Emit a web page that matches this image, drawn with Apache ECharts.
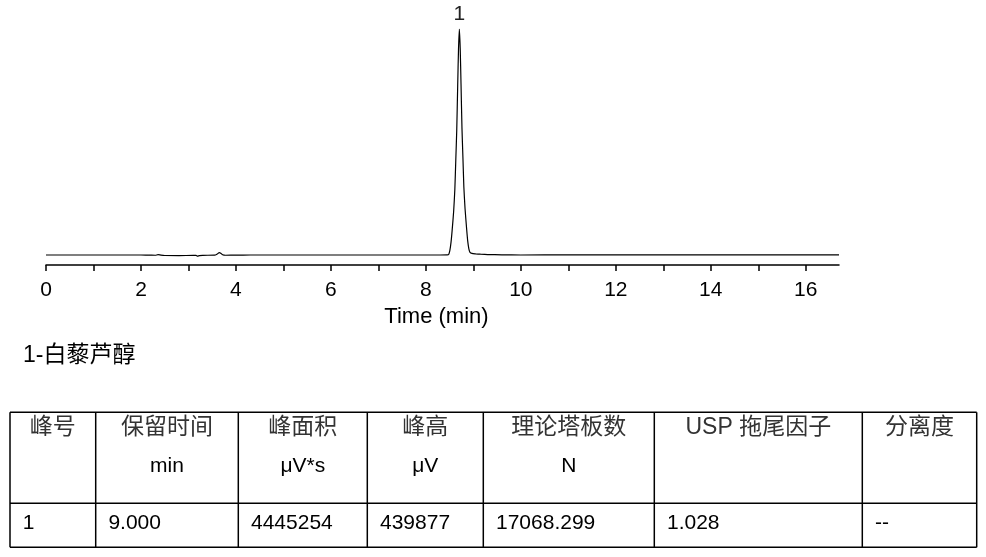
<!DOCTYPE html>
<html><head><meta charset="utf-8">
<script src="https://cdn.jsdelivr.net/npm/echarts@6/dist/echarts.min.js"></script>
<style>html,body{margin:0;padding:0;background:#fff}#c{width:986px;height:557px}</style>
</head><body><div id="c"></div>
<script>
// ---- data ----
const times  = [0, 0.5, 1.0, 1.5, 2.0, 2.15, 2.3, 2.36, 2.42, 2.5, 2.8, 3.1, 3.16, 3.19, 3.23, 3.3, 3.55, 3.6, 3.65, 3.68, 3.72, 3.78, 4.0, 4.3, 5.0, 6.0, 7.0, 8.0, 8.3, 8.45,
  8.48, 8.505, 8.53, 8.553, 8.585, 8.61, 8.63, 8.65, 8.67, 8.687, 8.705, 8.723, 8.74, 8.76, 8.78, 8.80, 8.825, 8.857, 8.88, 8.905, 8.93, 8.97,
  9.05, 9.15, 9.3, 9.6, 10.0, 11.0, 12.0, 13.0, 14.0, 15.0, 16.0, 16.7];
const signal = [0, 0, 0, 0, 0, -0.3, -0.5, 0.6, -0.3, -1.0, -1.2, -0.8, -0.6, -2.2, -1.2, -0.6, -0.4, 1.5, 4.5, 3.5, 0.5, -0.5, -0.3, 0, 0, 0, 0, 0, 0, 0.3,
  1, 9, 25, 48, 85, 128, 185, 243, 330, 400, 440, 402, 333, 247, 190, 132, 90, 52, 28, 12, 5, 3,
  2.2, 1.5, 0.8, 0.3, 0, 0.3, 0.3, 0.3, 0.3, 0.3, 0.3, 0.3];
const xTicks  = [0, 1, 2, 3, 4, 5, 6, 7, 8, 9, 10, 11, 12, 13, 14, 15, 16];
const xLabels = [0, 2, 4, 6, 8, 10, 12, 14, 16];
const xName = 'Time (min)';
const peakLabels = ['1'];
const compoundNote = '1-白藜芦醇';
const headerLine1 = ['峰号', '保留时间', '峰面积', '峰高', '理论塔板数', 'USP 拖尾因子', '分离度'];
const headerLine2 = ['', 'min', 'μV*s', 'μV', 'N', '', ''];
const rowValues   = ['1', '9.000', '4445254', '439877', '17068.299', '1.028', '--'];

// ---- layout (positions / styles) ----
const colEdges = [10, 95.7, 238.3, 367.3, 483.3, 654.3, 862.3, 976.7];
const tableTop = 412.3, tableMid = 503.3, tableBottom = 547.3;
const LAT = '"Liberation Sans", Arial, sans-serif';
const MIX = '"Liberation Sans", "Noto Sans CJK SC", sans-serif';

const graphics = [];
const lineStyle = { stroke: '#000', lineWidth: 1.5 };
[tableTop, tableMid, tableBottom].forEach(y => graphics.push({
  type: 'line', shape: { x1: colEdges[0], y1: y, x2: colEdges[colEdges.length - 1], y2: y }, style: lineStyle
}));
colEdges.forEach(x => graphics.push({
  type: 'line', shape: { x1: x, y1: tableTop, x2: x, y2: tableBottom }, style: lineStyle
}));
for (let i = 0; i < headerLine1.length; i++) {
  const cx = (colEdges[i] + colEdges[i + 1]) / 2;
  graphics.push({ type: 'text', style: { text: headerLine1[i], x: cx, y: 428, textAlign: 'center', textVerticalAlign: 'middle', align: 'center', verticalAlign: 'middle', fontSize: 23, fontFamily: MIX, fill: '#333' } });
  if (headerLine2[i]) graphics.push({ type: 'text', style: { text: headerLine2[i], x: cx, y: 466, textAlign: 'center', textVerticalAlign: 'middle', align: 'center', verticalAlign: 'middle', fontSize: 21, fontFamily: LAT, fill: '#000' } });
  graphics.push({ type: 'text', style: { text: rowValues[i], x: colEdges[i] + 12.7, y: 523, textAlign: 'left', textVerticalAlign: 'middle', align: 'left', verticalAlign: 'middle', fontSize: 21, fontFamily: LAT, fill: '#000' } });
}
graphics.push({ type: 'text', style: { text: compoundNote, x: 23, y: 356, textAlign: 'left', textVerticalAlign: 'middle', align: 'left', verticalAlign: 'middle', fontSize: 23, fontFamily: MIX, fill: '#000' } });

const chart = echarts.init(document.getElementById('c'), null, { renderer: 'canvas' });
chart.setOption({
  animation: false,
  backgroundColor: '#fff',
  grid: { left: 46, right: 147, top: 29, bottom: 292, containLabel: false },
  xAxis: {
    type: 'value', min: 0, max: 16.7, interval: 1,
    name: xName, nameLocation: 'middle', nameGap: 41,
    nameTextStyle: { fontSize: 22, fontFamily: LAT, color: '#000', padding: [0, 12, 0, 0] },
    axisLine: { show: true, onZero: false, lineStyle: { color: '#000', width: 1.5 } },
    axisTick: { show: true, customValues: xTicks, length: 6, lineStyle: { color: '#000', width: 1.5 } },
    axisLabel: { customValues: xLabels, fontSize: 21, fontFamily: LAT, color: '#000', margin: 15 },
    splitLine: { show: false }
  },
  yAxis: { type: 'value', min: -19.5, max: 440, show: false, splitLine: { show: false } },
  series: [{
    type: 'line',
    data: times.map((t, i) => [t, signal[i]]),
    showSymbol: false, smooth: 0.2,
    lineStyle: { color: '#000', width: 1.2 },
    markPoint: {
      symbol: 'circle', symbolSize: 0,
      label: { show: true, position: 'top', distance: 4, formatter: peakLabels[0], fontSize: 21, fontFamily: LAT, color: '#222' },
      data: [{ type: 'max' }]
    }
  }],
  graphic: graphics
});
</script></body></html>
